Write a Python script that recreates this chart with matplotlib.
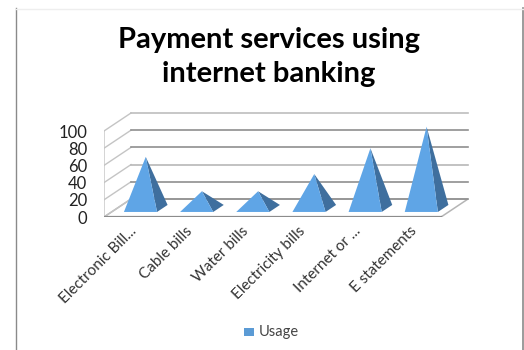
import matplotlib
matplotlib.use('Agg')
import matplotlib.pyplot as plt
from matplotlib.lines import Line2D
from matplotlib.patches import Polygon, Rectangle

W, H = 524, 350

categories = ['Electronic Bill...', 'Cable bills', 'Water bills',
              'Electricity bills', 'Internet or ...', 'E statements']
usage = [60, 20, 20, 40, 70, 95]
y_ticks = [0, 20, 40, 60, 80, 100]
series_name = 'Usage'

plt.rcParams['font.family'] = ['Lato', 'DejaVu Sans']

fig = plt.figure(figsize=(W / 100, H / 100), dpi=100)

# front edge of the floor runs x 104-441 px, value 0-100 takes 86 px
x_span = 6.7
y_span = 125
ax = fig.add_axes([104 / W, (H - 217) / H, 337 / 6 * x_span / W, 86 / 100 * y_span / H])
ax.set_xlim(0, x_span)
ax.set_ylim(0, y_span)
ax.patch.set_visible(False)
for s in ax.spines.values():
    s.set_visible(False)

# oblique offset of the back wall, in data units
depth_x = 27 / (337 / 6)
depth_y = 18 / 0.86


def proj(x, y, d):
    return (x + depth_x * d, y + depth_y * d)


# floor outline and left wall edge
floor = [proj(0, 0, 0), proj(6, 0, 0), proj(6, 0, 1), proj(0, 0, 1)]
ax.add_patch(Polygon(floor, closed=True, fill=False, edgecolor='#b5b5b5', lw=1.1, zorder=1))
ax.plot([0, 6], [0, 0], color='#8c8c8c', lw=1.6, zorder=2)
ax.plot([0, 0], [0, 100], color='#d4d4d4', lw=1.4, zorder=1)

# gridlines wrap from the left wall on to the back wall
grid_colors = ['#8f8f8f', '#8f8f8f', '#b8b8b8', '#8f8f8f', '#8f8f8f', '#bdbdbd']
for v, col in zip(y_ticks, grid_colors):
    p0 = proj(0, v, 0)
    p1 = proj(0, v, 1)
    p2 = proj(6, v, 1)
    ax.plot([p0[0], p1[0]], [p0[1], p1[1]], color='#c4c4c4', lw=1.0, zorder=1)
    ax.plot([p1[0], p2[0]], [p1[1], p2[1]], color=col, lw=1.2, zorder=1)

# pyramids on a square base
gap = 0.22
width = 0.59
d0, d1 = 0.28, 0.67
for i, v in enumerate(usage):
    left = i + gap
    right = left + width
    apex = proj(left + width / 2, v, (d0 + d1) / 2)
    front = [proj(left, 0, d0), proj(right, 0, d0), apex]
    side = [proj(right, 0, d0), proj(right, 0, d1), apex]
    ax.add_patch(Polygon(side, closed=True, facecolor='#3f6f9e', edgecolor='none', zorder=3))
    ax.add_patch(Polygon(front, closed=True, facecolor='#5fa5e6', edgecolor='none', zorder=4))

ax.set_yticks(y_ticks)
ax.set_yticklabels([str(v) for v in y_ticks], fontsize=12, color='#222222')
ax.set_xticks([i + 0.45 for i in range(len(categories))])
ax.set_xticklabels(categories, rotation=45, ha='right', rotation_mode='anchor',
                   fontsize=11, color='#333333')
ax.tick_params(axis='both', length=0)
ax.tick_params(axis='y', pad=12)
ax.tick_params(axis='x', pad=5)

fig.text(269 / W, 1 - 40 / H, 'Payment services using', ha='center', va='center',
         fontsize=21, fontweight='bold', color='black')
fig.text(269 / W, 1 - 74 / H, 'internet banking', ha='center', va='center',
         fontsize=21, fontweight='bold', color='black')

# legend
fig.add_artist(Rectangle((244 / W, 1 - 336 / H), 10 / W, 8 / H, transform=fig.transFigure,
                         facecolor='#5b9bd5', edgecolor='none'))
fig.text(259 / W, 1 - 332 / H, series_name, ha='left', va='center', fontsize=10.5, color='#444444')

# thin frame round the chart area
fig.add_artist(Line2D([15.5 / W, 15.5 / W], [0, 1 - 8 / H], color='#8a8a8a', lw=1.0))
fig.add_artist(Line2D([523 / W, 523 / W], [0, 1 - 8 / H], color='#8a8a8a', lw=1.2))
fig.add_artist(Line2D([15.5 / W, 523 / W], [1 - 8.5 / H, 1 - 8.5 / H], color='#eeeeee', lw=1.0))

plt.savefig('out.png', dpi=100)
